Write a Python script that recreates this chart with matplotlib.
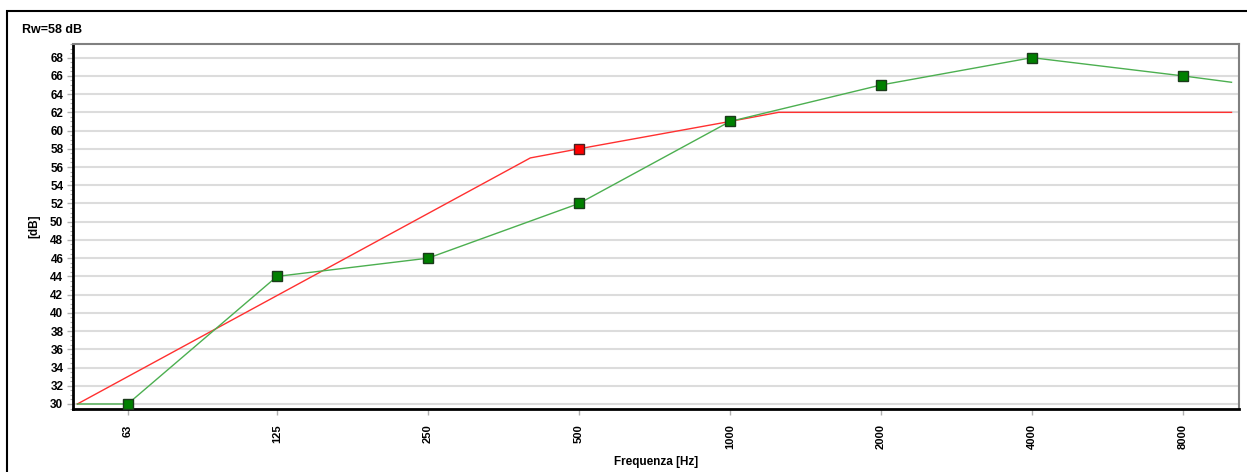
import matplotlib
matplotlib.use("Agg")
import matplotlib.pyplot as plt
from matplotlib.patches import Rectangle
from matplotlib.ticker import MultipleLocator, FixedLocator, NullLocator

# measured curve (octave bands + end points)
meas_freq = [50, 63, 125, 250, 500, 1000, 2000, 4000, 8000, 10000]
meas_db = [30, 30, 44, 46, 52, 61, 65, 68, 66, 65.3]
meas_mark_freq = [63, 125, 250, 500, 1000, 2000, 4000, 8000]
meas_mark_db = [30, 44, 46, 52, 61, 65, 68, 66]

# shifted reference curve
ref_freq = [50, 400, 500, 1000, 1250, 10000]
ref_db = [30, 57, 58, 61, 62, 62]
ref_mark_freq = [500]
ref_mark_db = [58]

tick_freq = [63, 125, 250, 500, 1000, 2000, 4000, 8000]
tick_labels = ["63", "125", "250", "500", "1000", "2000", "4000", "8000"]

title = "Rw=58 dB"

plt.rcParams['font.family'] = ['Liberation Sans', 'DejaVu Sans']

fig = plt.figure(figsize=(12.47, 4.72), dpi=100)
ax = fig.add_axes([73 / 1247, 1 - 409 / 472, (1239 - 73) / 1247, (409 - 44) / 472])

# outer frame (right and bottom edges fall outside the image)
fig.patches.append(Rectangle((7 / 1247, -0.05), 1.1, 1 - 11 / 472 + 0.05,
                             transform=fig.transFigure, fill=False,
                             edgecolor='black', linewidth=1.5))

ax.set_xscale('log')
ax.set_xlim(49.0, 10350)
ax.set_ylim(29.45, 69.5)

ax.plot(ref_freq, ref_db, color='#ff3030', linewidth=1, zorder=3)
ax.plot(meas_freq, meas_db, color='#4caf50', linewidth=1, zorder=3)
ax.plot(meas_mark_freq, meas_mark_db, linestyle='none', marker='s', markersize=7.5,
        markerfacecolor='#008000', markeredgecolor='#1a3a1a', markeredgewidth=1, zorder=4)
ax.plot(ref_mark_freq, ref_mark_db, linestyle='none', marker='s', markersize=7.5,
        markerfacecolor='#ff0000', markeredgecolor='#4a2020', markeredgewidth=1, zorder=4)

ax.xaxis.set_major_locator(FixedLocator(tick_freq))
ax.xaxis.set_minor_locator(NullLocator())
ax.set_xticklabels(tick_labels, rotation=90, fontsize=8, fontweight='bold')

ax.yaxis.set_major_locator(MultipleLocator(2))
ax.yaxis.set_minor_locator(MultipleLocator(0.5))
for lbl in ax.get_yticklabels():
    lbl.set_fontsize(8.5)
    lbl.set_fontweight('bold')

ax.tick_params(axis='both', which='major', color='#b0b0b0', length=4, width=1)
ax.tick_params(axis='y', which='minor', color='#b0b0b0', length=2, width=0.8)
ax.tick_params(axis='y', pad=3)
ax.tick_params(axis='x', pad=7)

ax.grid(axis='y', which='major', color='#dcdcdc', linewidth=1.5)
ax.set_axisbelow(True)

ax.spines['left'].set_linewidth(2)
ax.spines['bottom'].set_linewidth(2)
ax.spines['top'].set_color('#808080')
ax.spines['right'].set_color('#808080')
ax.spines['top'].set_linewidth(1.5)
ax.spines['right'].set_linewidth(1.5)

ax.set_xlabel("Frequenza [Hz]", fontsize=8.5, fontweight='bold', labelpad=5)
ax.set_ylabel("[dB]", fontsize=8.5, fontweight='bold', labelpad=7)
fig.text(22 / 1247, 1 - 30 / 472, title, fontsize=9, fontweight='bold', va='center')

fig.savefig("out.png", dpi=100)
